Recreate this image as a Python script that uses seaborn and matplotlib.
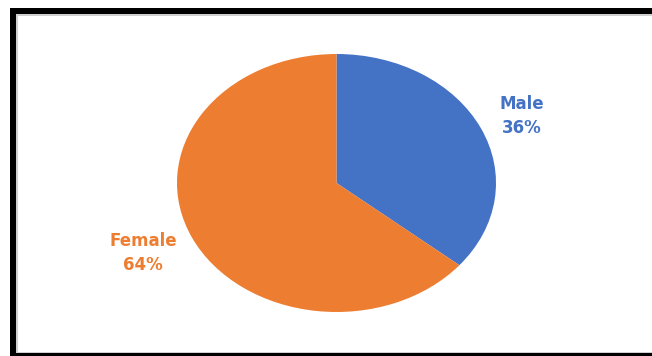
import matplotlib
matplotlib.use("Agg")
import matplotlib.pyplot as plt
import seaborn as sns
from matplotlib.patches import Rectangle

categories = ["Male", "Female"]
values = [36, 64]
colors = ["#4472C4", "#ED7D31"]

sns.set_theme(style="white")
plt.rcParams['font.family'] = ['DejaVu Sans']

W, H = 652, 356
fig = plt.figure(figsize=(W / 100, H / 100), dpi=100)
fig.patch.set_facecolor("white")

# background/frame axes in pixel coordinates
bg = fig.add_axes([0, 0, 1, 1])
bg.set_xlim(0, W)
bg.set_ylim(H, 0)
bg.axis("off")
bg.add_patch(Rectangle((10, 8), W - 10, 6, color="black", lw=0))
bg.add_patch(Rectangle((10, 8), 6, H - 8, color="black", lw=0))
bg.add_patch(Rectangle((10, 353), W - 10, 3, color="black", lw=0))
bg.add_patch(Rectangle((16, 14), W - 16, 1.5, color="#d0d0d0", lw=0))
bg.add_patch(Rectangle((16, 14), 1.5, 339, color="#d0d0d0", lw=0))
bg.add_patch(Rectangle((16, 351.5), W - 16, 1.5, color="#d0d0d0", lw=0))

# pie axes placed at the ellipse bounding box
left, right, top, bottom = 177, 496, 54, 312
ax = fig.add_axes([left / W, 1 - bottom / H, (right - left) / W, (bottom - top) / H])
pal = sns.color_palette(colors)
ax.pie(values, colors=pal, startangle=90, counterclock=False, radius=1,
       wedgeprops=dict(linewidth=0))
ax.set_aspect("auto")
ax.set_xlim(-1, 1)
ax.set_ylim(-1, 1)
ax.axis("off")

label_pos = {"Male": (522, 116), "Female": (143, 253)}
for cat, val, col in zip(categories, values, colors):
    x, y = label_pos[cat]
    bg.text(x, y, f"{cat}\n{val}%", color=col, fontsize=12, fontweight="bold",
            ha="center", va="center", linespacing=1.4)

fig.savefig("out.png", dpi=100)
